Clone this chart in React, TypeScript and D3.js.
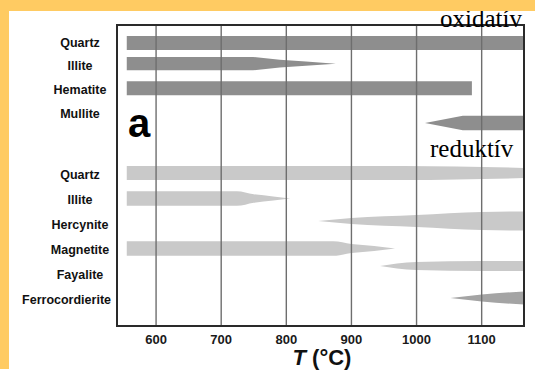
import { useEffect, useRef } from 'react';
import { select, scaleLinear, scalePoint, area, curveMonotoneX, curveLinear } from 'd3';

// phase stability chart: oxidising (top) vs reducing (bottom) firing
// each profile is [temperature °C, relative thickness of the band]

const oxidPhases = ['Quartz', 'Illite', 'Hematite', 'Mullite'];
const reducPhases = ['Quartz', 'Illite', 'Hercynite', 'Magnetite', 'Fayalite', 'Ferrocordierite'];

const tempTicks = [600, 700, 800, 900, 1000, 1100];

const oxQuartz = [[555, 1], [1170, 1]];
const oxIllite = [[555, 0.95], [749, 0.95], [790, 0.55], [830, 0.3], [876, 0]];
const oxHematite = [[555, 1], [1085, 1]];
const oxMullite = [[1013, 0], [1071, 1.05], [1170, 1.05]];

const redQuartz = [[555, 1], [980, 1], [1170, 0.72]];
const redIllite = [[555, 1.05], [724, 1.05], [750, 0.6], [780, 0.3], [806, 0]];
const redHercynite = [[849, 0], [900, 0.43], [1000, 0.86], [1100, 1.29], [1170, 1.36]];
const redMagnetite = [[555, 1.05], [872, 1.05], [900, 0.65], [935, 0.35], [967, 0]];
const redFayalite = [[944, 0], [970, 0.36], [1000, 0.57], [1100, 0.71], [1170, 0.71]];
const redFerrocordierite = [[1052, 0], [1100, 0.5], [1170, 0.95]];

const oxidProfiles = [oxQuartz, oxIllite, oxHematite, oxMullite];
const reducProfiles = [redQuartz, redIllite, redHercynite, redMagnetite, redFayalite, redFerrocordierite];

// bars do not sit exactly on their label rows in the original
const oxidNudge = [1, -2, -1, 10];
const reducNudge = [-1, -0.5, -3, -0.5, -8, -1];

const App = () => {
  const svgRef = useRef(null);

  useEffect(() => {
    const W = 535;
    const H = 375;
    const svg = select(svgRef.current);
    svg.selectAll('*').remove();

    const plot = { left: 117, top: 25, right: 524, bottom: 326 };

    svg.append('rect').attr('width', W).attr('height', H).attr('fill', '#ffffff');

    const x = scaleLinear().domain([540, 1165]).range([plot.left, plot.right]);
    const thick = scaleLinear().domain([0, 1]).range([0, 14]);
    const yOx = scalePoint().domain(oxidPhases).range([42, 113]);
    const yRed = scalePoint().domain(reducPhases).range([174, 299]);

    svg
      .append('defs')
      .append('clipPath')
      .attr('id', 'plotclip')
      .append('rect')
      .attr('x', plot.left)
      .attr('y', plot.top)
      .attr('width', plot.right - plot.left)
      .attr('height', plot.bottom - plot.top);

    const bars = svg.append('g').attr('clip-path', 'url(#plotclip)');

    const drawBand = (profile, cy, fill, linear) => {
      const a = area()
        .x((d) => x(d[0]))
        .y0((d) => cy - thick(d[1]) / 2)
        .y1((d) => cy + thick(d[1]) / 2)
        .curve(linear ? curveLinear : curveMonotoneX);
      bars.append('path').attr('d', a(profile)).attr('fill', fill);
    };

    oxidProfiles.forEach((p, i) => {
      drawBand(p, yOx(oxidPhases[i]) + oxidNudge[i], '#8e8e8e', true);
    });
    reducProfiles.forEach((p, i) => {
      const fill = reducPhases[i] === 'Ferrocordierite' ? '#a4a4a4' : '#c9c9c9';
      drawBand(p, yRed(reducPhases[i]) + reducNudge[i], fill, false);
    });

    // grid lines sit over the bars
    svg
      .append('g')
      .selectAll('line')
      .data(tempTicks)
      .enter()
      .append('line')
      .attr('x1', (d) => x(d))
      .attr('x2', (d) => x(d))
      .attr('y1', plot.top)
      .attr('y2', plot.bottom)
      .attr('stroke', '#6e6e6e')
      .attr('stroke-width', 1.4);

    svg
      .append('rect')
      .attr('x', plot.left)
      .attr('y', plot.top)
      .attr('width', plot.right - plot.left)
      .attr('height', plot.bottom - plot.top)
      .attr('fill', 'none')
      .attr('stroke', '#2a2a2a')
      .attr('stroke-width', 2);

    // tick labels
    svg
      .append('g')
      .selectAll('text')
      .data(tempTicks)
      .enter()
      .append('text')
      .attr('x', (d) => x(d))
      .attr('y', 344)
      .attr('text-anchor', 'middle')
      .style('font-family', '"Liberation Sans", Arial, sans-serif')
      .style('font-weight', 'bold')
      .style('font-size', '13px')
      .attr('fill', '#1a1a1a')
      .text((d) => d);

    const axisTitle = svg
      .append('text')
      .attr('x', 322)
      .attr('y', 365)
      .attr('text-anchor', 'middle')
      .style('font-family', '"Liberation Sans", Arial, sans-serif')
      .style('font-weight', 'bold')
      .style('font-size', '22px')
      .attr('fill', '#111');
    axisTitle.append('tspan').style('font-style', 'italic').text('T');
    axisTitle.append('tspan').text(' (°C)');

    // phase labels, centred in the left margin
    const drawLabels = (names, yScale) => {
      names.forEach((n) => {
        const t = svg
          .append('text')
          .attr('x', 80)
          .attr('y', yScale(n) + 4.5)
          .attr('text-anchor', 'middle')
          .style('font-family', '"Liberation Sans", Arial, sans-serif')
          .style('font-weight', 'bold')
          .style('font-size', '12.5px')
          .attr('fill', '#111')
          .text(n);
        const w = t.node().getComputedTextLength();
        if (80 + w / 2 > 111) t.attr('x', 111 - w / 2);
      });
    };
    drawLabels(oxidPhases, yOx);
    drawLabels(reducPhases, yRed);

    svg
      .append('text')
      .attr('x', 128)
      .attr('y', 137)
      .style('font-family', '"Liberation Sans", Arial, sans-serif')
      .style('font-weight', 'bold')
      .style('font-size', '40px')
      .attr('fill', '#000')
      .text('a');

    svg
      .append('text')
      .attr('x', 440)
      .attr('y', 27)
      .style('font-family', '"Liberation Serif", "Times New Roman", serif')
      .style('font-size', '25px')
      .attr('fill', '#000')
      .text('oxidatív');

    svg
      .append('text')
      .attr('x', 430)
      .attr('y', 157)
      .style('font-family', '"Liberation Serif", "Times New Roman", serif')
      .style('font-size', '25px')
      .attr('fill', '#000')
      .text('reduktív');

    // orange frame of the slide
    svg.append('rect').attr('x', 0).attr('y', 0).attr('width', W).attr('height', 11).attr('fill', '#ffcb62');
    svg.append('rect').attr('x', 0).attr('y', 0).attr('width', 9).attr('height', 369).attr('fill', '#ffcb62');
  }, []);

  return (
    <svg
      ref={svgRef}
      width={535}
      height={375}
      style={{ position: 'absolute', left: 0, top: 0, display: 'block' }}
    />
  );
};

export default App;
